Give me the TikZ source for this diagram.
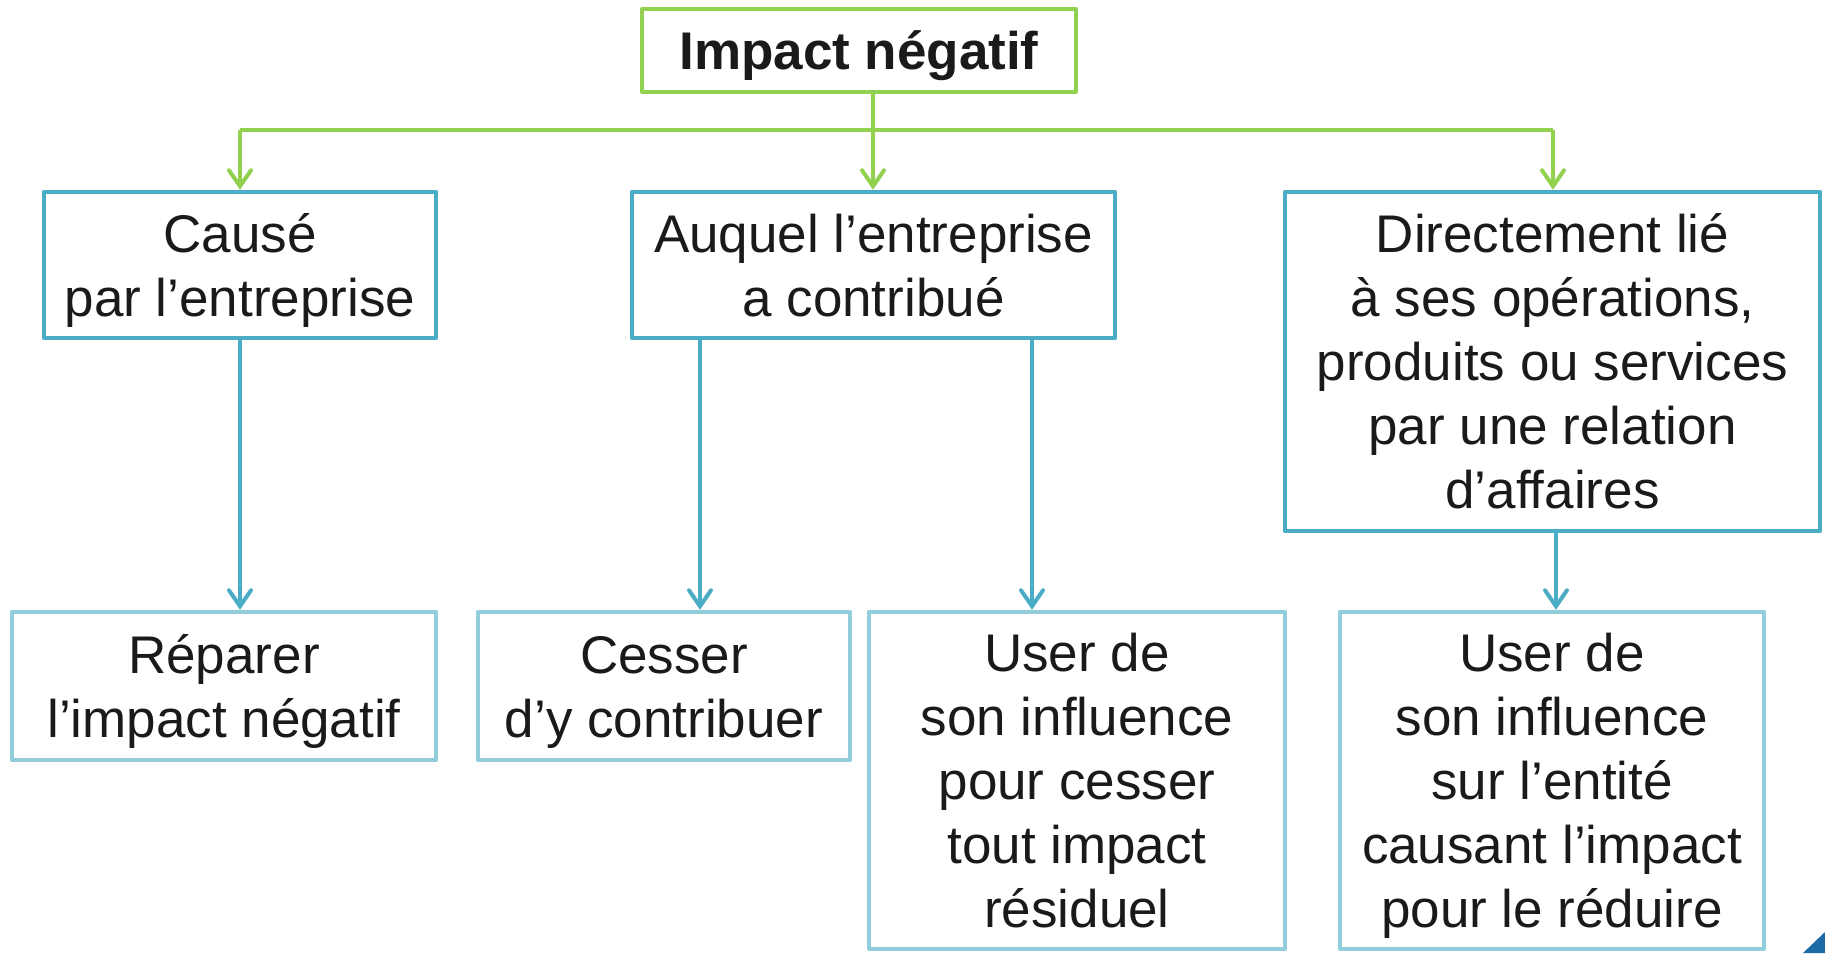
\documentclass[tikz,border=0pt]{standalone}
\usepackage{fontspec}
\setmainfont{Liberation Sans}
\usetikzlibrary{arrows.meta}
\definecolor{grn}{HTML}{92D050}
\definecolor{dblue}{HTML}{4BACC6}
\definecolor{lblue}{HTML}{92CDDC}
\definecolor{txt}{HTML}{1A1A1A}
\definecolor{tri}{HTML}{1B6AA5}
\newcommand\ms{\rule[-6.3pt]{0pt}{32pt}}
\tikzset{
  basebox/.style={rectangle, inner sep=0pt, align=center, text=txt,
    font=\fontsize{26.5}{32}\selectfont, line join=round},
  topbox/.style={basebox, draw=grn, line width=2pt, font=\fontsize{26.5}{32}\selectfont\bfseries},
  midbox/.style={basebox, draw=dblue, line width=2.2pt},
  lowbox/.style={basebox, draw=lblue, line width=2.2pt},
  garrow/.style={draw=grn, line width=2pt, -{Straight Barb[length=8pt,width=11pt,line cap=round]}},
  gline/.style={draw=grn, line width=2pt},
  barrow/.style={draw=dblue, line width=2pt, -{Straight Barb[length=8pt,width=11pt,line cap=round]}}
}
\begin{document}
\begin{tikzpicture}[x=0.5pt,y=-0.5pt]
\useasboundingbox (0,0) rectangle (1825,953);
\node[topbox, minimum width=217pt, minimum height=41.5pt] (top) at (859,50.5) {\ms Impact négatif\ms};
\node[midbox, minimum width=196pt, minimum height=73pt] (A) at (240,265) {\ms Causé\\par l’entreprise\ms};
\node[midbox, minimum width=241.5pt, minimum height=73pt] (B) at (873.5,265) {\ms Auquel l’entreprise\\a contribué\ms};
\node[midbox, minimum width=267.5pt, minimum height=169.5pt] (C) at (1552.5,361.5) {\ms Directement lié\\à ses opérations,\\produits ou services\\par une relation\\d’affaires\ms};
\node[lowbox, minimum width=212pt, minimum height=74pt] (D) at (224,686) {\ms Réparer\\l’impact négatif\ms};
\node[lowbox, minimum width=186pt, minimum height=74pt] (E) at (664,686) {\ms Cesser\\d’y contribuer\ms};
\node[lowbox, minimum width=208pt, minimum height=168.5pt] (F) at (1077,780.5) {\ms User de\\son influence\\pour cesser\\tout impact\\résiduel\ms};
\node[lowbox, minimum width=212pt, minimum height=168.5pt] (G) at (1552,780.5) {\ms User de\\son influence\\sur l’entité\\causant l’impact\\pour le réduire\ms};
% green connectors
\coordinate (jA) at (240,130);
\coordinate (jB) at (873,130);
\coordinate (jC) at (1553,130);
\draw[gline] (jA) -- (jC);
\draw[garrow] (jB |- top.south) -- (jB |- B.north);
\draw[garrow] (jA) -- (jA |- A.north);
\draw[garrow] (jC) -- (jC |- C.north);
% blue connectors
\coordinate (xA) at (240,0);
\coordinate (xB1) at (700,0);
\coordinate (xB2) at (1032,0);
\coordinate (xC) at (1556,0);
\draw[barrow] (xA |- A.south) -- (xA |- D.north);
\draw[barrow] (xB1 |- B.south) -- (xB1 |- E.north);
\draw[barrow] (xB2 |- B.south) -- (xB2 |- F.north);
\draw[barrow] (xC |- C.south) -- (xC |- G.north);
% corner fragment
\fill[tri] (1803,953) -- (1825,932) -- (1825,953) -- cycle;
\end{tikzpicture}
\end{document}
